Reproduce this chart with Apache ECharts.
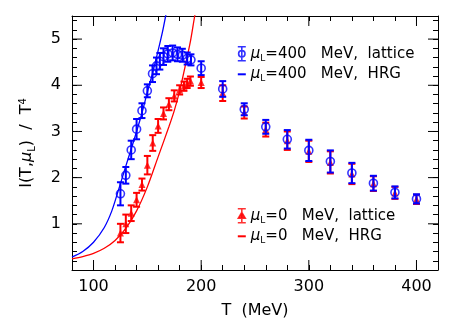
<!DOCTYPE html>
<html>
<head>
<meta charset="utf-8">
<script src="https://cdn.jsdelivr.net/npm/echarts@6/dist/echarts.min.js"></script>
<style>html,body{margin:0;padding:0;background:#fff}#c{width:463px;height:335px}</style>
</head>
<body>
<div id="c"></div>
<script>
// lattice, mu_L = 400 MeV
const tBlue = [125,130,135,140,145,150,154.8,158.5,161.6,165,169,173.5,178,182.5,187,190.5,200,220,240,260,280,300,320,340,360,380,400];
const iBlue = [1.65,2.05,2.6,3.05,3.45,3.88,4.25,4.42,4.52,4.62,4.68,4.7,4.67,4.65,4.58,4.55,4.37,3.92,3.48,3.1,2.83,2.59,2.35,2.1,1.88,1.68,1.54];
const eBlue = [0.25,0.18,0.2,0.22,0.16,0.14,0.18,0.18,0.18,0.18,0.17,0.16,0.15,0.14,0.13,0.12,0.15,0.17,0.13,0.15,0.2,0.23,0.24,0.22,0.16,0.13,0.1];
// lattice, mu_L = 0
const tRed = [125,130,135,140,145,150,155,160,165,170,175,180,184,187,190,200,220,240,260,280,300,320,340,360,380,400];
const iRed = [0.8,1.0,1.23,1.52,1.85,2.27,2.75,3.12,3.39,3.59,3.77,3.9,3.98,4.04,4.09,4.06,3.83,3.41,3.04,2.8,2.57,2.33,2.08,1.87,1.67,1.53];
const eRed = [0.2,0.2,0.17,0.15,0.13,0.2,0.17,0.15,0.13,0.13,0.12,0.1,0.1,0.1,0.1,0.12,0.17,0.13,0.15,0.2,0.23,0.24,0.22,0.16,0.13,0.1];
// HRG curves
const tHrgBlue = [80,90,100,110,117,123,130,135,140,145,150,155,160,164,167,170];
const iHrgBlue = [0.28,0.4,0.6,0.92,1.28,1.72,2.25,2.62,3.0,3.4,3.85,4.28,4.75,5.15,5.5,5.85];
const tHrgRed = [80,90,100,110,120,130,140,150,160,170,175,180,185,190,194,197];
const iHrgRed = [0.24,0.29,0.36,0.47,0.64,0.9,1.28,1.8,2.45,3.1,3.45,3.88,4.4,4.95,5.5,5.85];
// ticks
const xMajor = [100,200,300,400];
const yMajor = [1,2,3,4,5];
const X_MIN = 80, X_MAX = 420, Y_MIN = 0, Y_MAX = 5.5;

const BLUE = '#0000ff', RED = '#ff0000';
const FONT = 'DejaVu Sans';

function zip3(a,b,c){ return a.map((v,k)=>[v,b[k],c[k]]); }
function zip2(a,b){ return a.map((v,k)=>[v,b[k]]); }

function errRender(color){
  return function(params, api){
    const x = api.value(0), y = api.value(1), e = api.value(2);
    const t = api.coord([x, y + e]), b = api.coord([x, y - e]);
    const hw = 3.5;
    const st = {stroke: color, lineWidth: 2};
    return {type:'group', children:[
      {type:'line', shape:{x1:t[0],y1:t[1],x2:b[0],y2:b[1]}, style:st},
      {type:'line', shape:{x1:t[0]-hw,y1:t[1],x2:t[0]+hw,y2:t[1]}, style:st},
      {type:'line', shape:{x1:b[0]-hw,y1:b[1],x2:b[0]+hw,y2:b[1]}, style:st}
    ]};
  };
}
// long major ticks, drawn inward on all four sides
function majorTickRender(params, api){
  const axis = api.value(0), v = api.value(1);
  const L = 10, st = {stroke:'#000', lineWidth:1};
  if (axis === 0) {
    const b = api.coord([v, Y_MIN]), t = api.coord([v, Y_MAX]);
    return {type:'group', children:[
      {type:'line', shape:{x1:b[0],y1:b[1],x2:b[0],y2:b[1]-L}, style:st},
      {type:'line', shape:{x1:t[0],y1:t[1],x2:t[0],y2:t[1]+L}, style:st}]};
  }
  const l = api.coord([X_MIN, v]), r = api.coord([X_MAX, v]);
  return {type:'group', children:[
    {type:'line', shape:{x1:l[0],y1:l[1],x2:l[0]+L,y2:l[1]}, style:st},
    {type:'line', shape:{x1:r[0],y1:r[1],x2:r[0]-L,y2:r[1]}, style:st}]};
}
const majorTickData = xMajor.map(v=>[0,v]).concat(yMajor.map(v=>[1,v]));

const axisLineStyle = {show:true, onZero:false, lineStyle:{color:'#000', width:1}};
function xAx(pos, labels){
  return {type:'value', position:pos, min:X_MIN, max:X_MAX, interval:20,
    axisLine: axisLineStyle,
    axisTick:{show:true, inside:true, length:5, lineStyle:{color:'#000', width:1}},
    axisLabel: labels ? {show:true, margin:9, color:'#000', fontFamily:FONT, fontSize:16,
      formatter:v => (xMajor.indexOf(v) >= 0 ? String(v) : '')} : {show:false},
    splitLine:{show:false}
  };
}
function yAx(pos, labels){
  return {type:'value', position:pos, min:Y_MIN, max:Y_MAX, interval:0.2,
    axisLine: axisLineStyle,
    axisTick:{show:true, inside:true, length:5, lineStyle:{color:'#000', width:1}},
    axisLabel: labels ? {show:true, margin:11, color:'#000', fontFamily:FONT, fontSize:16,
      formatter:v => { const r = Math.round(v); return (Math.abs(v-r) < 1e-6 && yMajor.indexOf(r) >= 0) ? String(r) : ''; }} : {show:false},
    splitLine:{show:false}
  };
}

const xAxes = [xAx('bottom', true), xAx('top', false)];
xAxes[0].name = 'T  (MeV)';
xAxes[0].nameLocation = 'middle';
xAxes[0].nameGap = 33;
xAxes[0].nameTextStyle = {color:'#000', fontFamily:FONT, fontSize:16};
const yAxes = [yAx('left', true), yAx('right', false)];
yAxes[0].name = '{a|I(T,}{mu|μ}{sub|L}{a|)  /  T}{sup|4}';
yAxes[0].nameLocation = 'middle';
yAxes[0].nameGap = 35;
yAxes[0].nameTextStyle = {color:'#000', fontFamily:FONT, fontSize:16,
  rich:{
    a:{fontFamily:FONT, fontSize:16, color:'#000'},
    mu:{fontFamily:FONT, fontSize:16, fontStyle:'italic', color:'#000'},
    sub:{fontFamily:FONT, fontSize:10, color:'#000', padding:[10,0,0,0]},
    sup:{fontFamily:FONT, fontSize:10, color:'#000', padding:[0,0,8,0]}
  }};

const legRich = {
  mu:{fontFamily:FONT, fontSize:15, fontStyle:'italic', color:'#000'},
  sub:{fontFamily:FONT, fontSize:9, color:'#000', padding:[9,0,0,0]},
  t:{fontFamily:FONT, fontSize:15, color:'#000'}
};
function legFmt(name){
  const m = name.match(/^mu=(\d+) (.*)$/);
  return '{mu|μ}{sub|L}{t|=' + m[1] + '   MeV,  ' + m[2] + '}';
}
const circIcon = 'path://M0,0 L8,0 M4,0 L4,14 M0,14 L8,14 M7.2,7 A3.2,3.2 0 1 1 0.8,7 A3.2,3.2 0 1 1 7.2,7 Z';
const triIcon = 'path://M0,0 L8,0 M4,0 L4,14 M0,14 L8,14 M4,3.5 L7.5,9.5 L0.5,9.5 Z';
const lineIcon = 'path://M0,0 L0,0 M0,14 L0,14 M0,6 L8,6 L8,8 L0,8 Z';

const option = {
  animation:false,
  backgroundColor:'#fff',
  grid:{left:72, right:25, top:16, bottom:65, containLabel:false},
  xAxis: xAxes,
  yAxis: yAxes,
  legend:[
    {orient:'vertical', left:237, top:46, padding:0, itemWidth:8, itemHeight:14, itemGap:4,
     formatter:legFmt, textStyle:{rich:legRich, fontFamily:FONT, fontSize:15},
     data:[{name:'mu=400 lattice', icon:circIcon, itemStyle:{color:'rgba(0,0,0,0)', borderColor:BLUE, borderWidth:1.6}},
           {name:'mu=400 HRG', icon:lineIcon, itemStyle:{color:BLUE, borderWidth:0}}]},
    {orient:'vertical', left:237, top:208, padding:0, itemWidth:8, itemHeight:14, itemGap:4,
     formatter:legFmt, textStyle:{rich:legRich, fontFamily:FONT, fontSize:15},
     data:[{name:'mu=0 lattice', icon:triIcon, itemStyle:{color:RED, borderColor:RED, borderWidth:1.6}},
           {name:'mu=0 HRG', icon:lineIcon, itemStyle:{color:RED, borderWidth:0}}]}
  ],
  series:[
    {type:'custom', name:'majorTicks', data:majorTickData, renderItem:majorTickRender, clip:false, silent:true, z:1},
    {type:'line', name:'mu=0 HRG', data:zip2(tHrgRed, iHrgRed), smooth:0.3, symbol:'none', clip:true,
     lineStyle:{color:RED, width:1.3}, itemStyle:{color:RED}, z:3},
    {type:'line', name:'mu=400 HRG', data:zip2(tHrgBlue, iHrgBlue), smooth:0.3, symbol:'none', clip:true,
     lineStyle:{color:BLUE, width:1.3}, itemStyle:{color:BLUE}, z:3},
    {type:'custom', name:'redErr', data:zip3(tRed, iRed, eRed), renderItem:errRender(RED), z:4},
    {type:'scatter', name:'mu=0 lattice', data:zip2(tRed, iRed), symbol:'triangle', symbolSize:7,
     itemStyle:{color:RED}, z:5},
    {type:'custom', name:'blueErr', data:zip3(tBlue, iBlue, eBlue), renderItem:errRender(BLUE), z:6},
    {type:'scatter', name:'mu=400 lattice', data:zip2(tBlue, iBlue), symbol:'circle', symbolSize:8,
     itemStyle:{color:'rgba(0,0,0,0)', borderColor:BLUE, borderWidth:1.6}, z:7}
  ]
};
const chart = echarts.init(document.getElementById('c'), null, {renderer:'canvas'});
chart.setOption(option);
</script>
</body>
</html>
